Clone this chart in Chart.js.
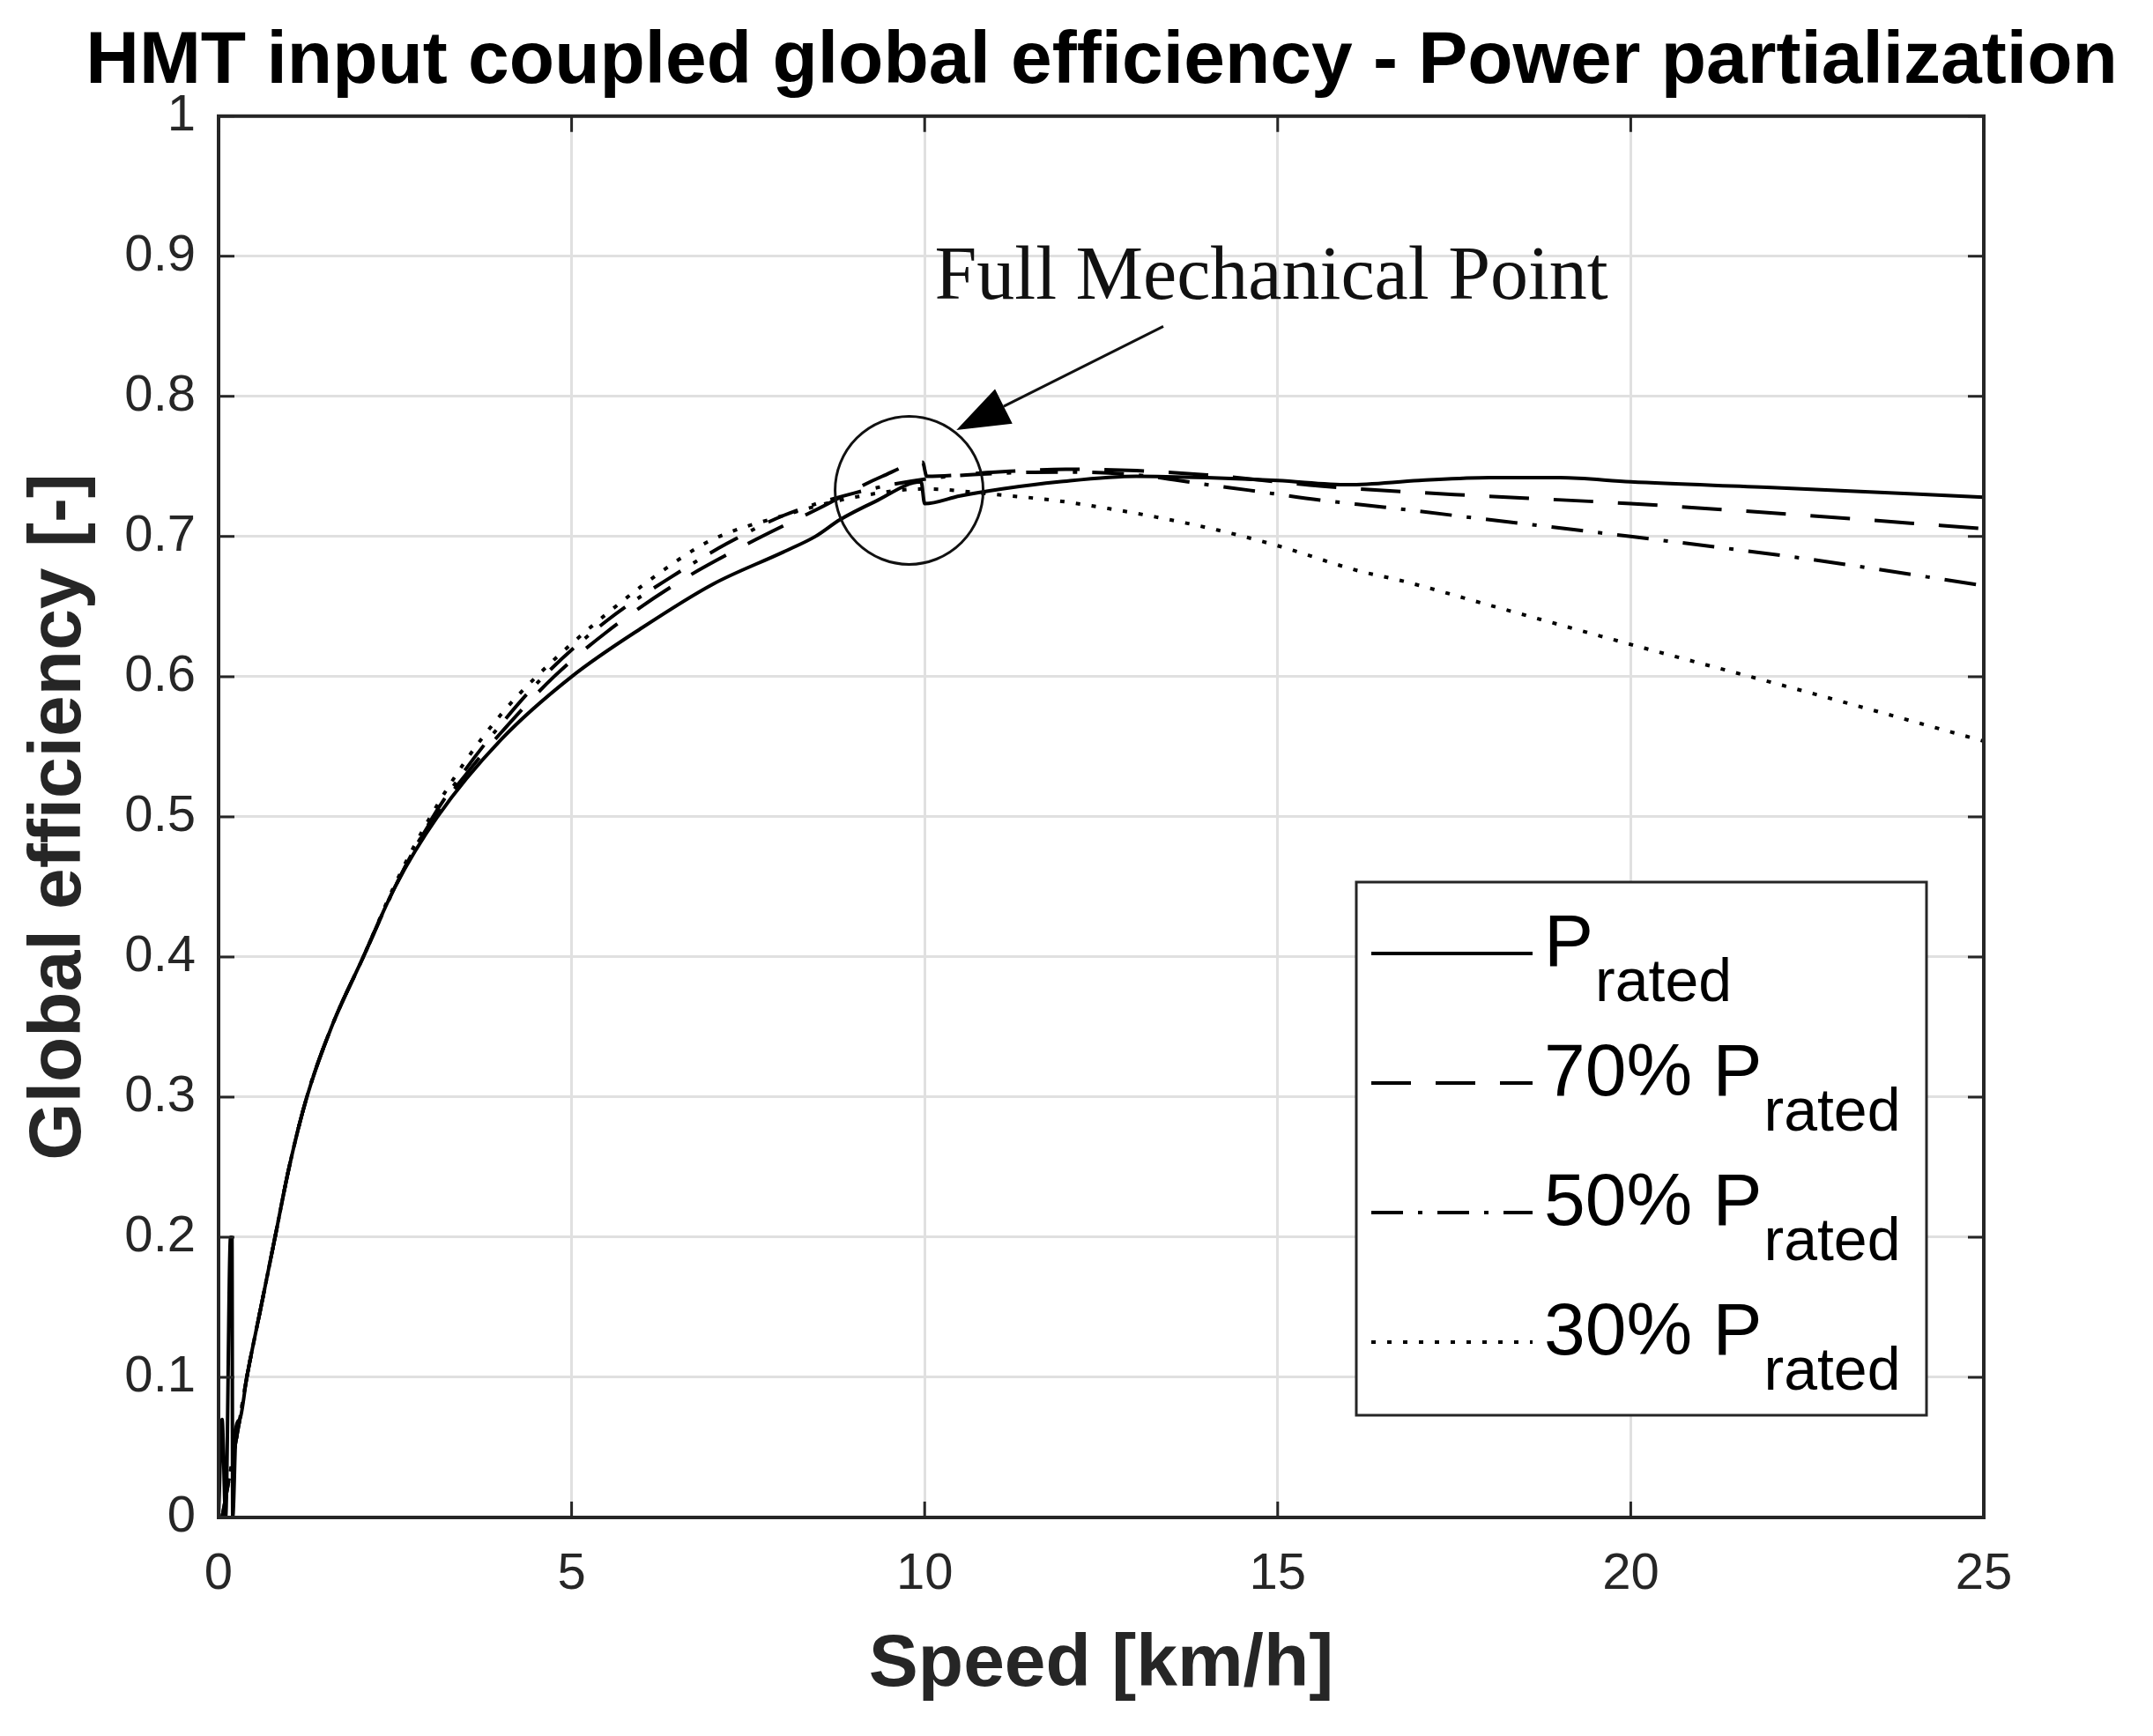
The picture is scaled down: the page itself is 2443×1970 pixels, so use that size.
<!DOCTYPE html>
<html>
<head>
<meta charset="utf-8">
<script src="https://cdn.jsdelivr.net/npm/chart.js@4.4.1/dist/chart.umd.min.js"></script>
<style>
html,body{margin:0;padding:0;background:#ffffff;}
#wrap{width:2443px;height:1970px;position:relative;}
</style>
</head>
<body>
<div id="wrap"><canvas id="c"></canvas></div>
<script>
// ---------------- data ----------------
const chartTitle = 'HMT input coupled global efficiency - Power partialization';
const xAxisTitle = 'Speed [km/h]';
const yAxisTitle = 'Global efficiency [-]';
const xTickValues = [0, 5, 10, 15, 20, 25];
const xTickLabels = ['0', '5', '10', '15', '20', '25'];
const yTickValues = [0, 0.1, 0.2, 0.3, 0.4, 0.5, 0.6, 0.7, 0.8, 0.9, 1];
const yTickLabels = ['0', '0.1', '0.2', '0.3', '0.4', '0.5', '0.6', '0.7', '0.8', '0.9', '1'];
const legendMain = ['P', '70% P', '50% P', '30% P'];
const legendSub = 'rated';
const annotationText = 'Full Mechanical Point';

// P rated (solid)
const speedRated = [0, 0.05, 0.1, 0.17, 0.19, 0.2, 0.25, 0.3, 0.4, 0.6, 0.8, 1.0, 1.25, 1.6, 2.05, 2.5, 3.1, 4.0, 5.0, 6.0, 7.0, 8.0, 8.45, 8.8, 9.3, 9.95, 10.0, 10.5, 11.1, 11.9, 13.0, 14.0, 15.0, 16.0, 17.0, 18.0, 19.0, 20.0, 22.0, 25.0];
const effRated   = [0, 0.07, 0, 0.2, 0.2, 0.0, 0.065, 0.07, 0.1, 0.15, 0.2, 0.25, 0.3, 0.35, 0.4, 0.45, 0.5, 0.555, 0.6, 0.635, 0.666, 0.689, 0.70, 0.712, 0.725, 0.739, 0.7235, 0.729, 0.734, 0.739, 0.743, 0.742, 0.740, 0.737, 0.740, 0.742, 0.742, 0.739, 0.735, 0.728];

// 70% P rated (dashed)
const speed70 = [0.05, 0.3, 0.4, 0.6, 0.8, 1.0, 1.25, 1.6, 2.05, 2.5, 3.0, 3.5, 4.0, 4.75, 5.5, 6.5, 7.5, 8.5, 9.4, 9.97, 10.03, 11.0, 12.0, 13.0, 14.0, 15.0, 15.6, 17.5, 20.0, 22.5, 25.0];
const eff70   = [0, 0.07, 0.1, 0.15, 0.2, 0.25, 0.3, 0.35, 0.4, 0.45, 0.496, 0.53, 0.56, 0.6, 0.632, 0.667, 0.695, 0.72, 0.743, 0.753, 0.743, 0.746, 0.748, 0.747, 0.744, 0.739, 0.736, 0.73, 0.7235, 0.715, 0.7056];

// 50% P rated (dash-dot)
const speed50 = [0.05, 0.3, 0.4, 0.6, 0.8, 1.0, 1.25, 1.6, 2.05, 2.5, 3.0, 3.5, 4.0, 4.6, 5.5, 6.5, 7.2, 8.0, 9.0, 10.0, 11.0, 12.0, 13.0, 14.0, 14.6, 15.6, 16.5, 18.0, 20.0, 22.5, 25.0];
const eff50   = [0, 0.07, 0.1, 0.15, 0.2, 0.25, 0.3, 0.35, 0.4, 0.45, 0.497, 0.534, 0.566, 0.6, 0.64, 0.674, 0.695, 0.715, 0.731, 0.741, 0.745, 0.746, 0.744, 0.737, 0.733, 0.726, 0.721, 0.712, 0.70, 0.684, 0.665];

// 30% P rated (dotted)
const speed30 = [0.05, 0.3, 0.4, 0.6, 0.8, 1.0, 1.25, 1.6, 2.05, 2.5, 3.0, 3.5, 4.0, 4.5, 5.5, 6.5, 7.0, 8.0, 9.0, 10.0, 11.0, 11.87, 12.6, 13.27, 14.15, 15.03, 16.11, 16.79, 18.0, 20.0, 22.5, 25.0];
const eff30   = [0, 0.07, 0.1, 0.15, 0.2, 0.25, 0.3, 0.35, 0.4, 0.452, 0.50, 0.54, 0.573, 0.60, 0.645, 0.683, 0.698, 0.715, 0.728, 0.734, 0.730, 0.7256, 0.720, 0.714, 0.7046, 0.693, 0.676, 0.668, 0.651, 0.623, 0.589, 0.554];

// annotation anchors (data coordinates)
const circleCenter = [9.78, 0.733];
const arrowFrom = [13.38, 0.850];
const arrowTo = [10.45, 0.776];
const textAnchor = [10.14, 0.870];

// ---------------- helpers ----------------
const toPts = (xs, ys) => xs.map((x, i) => ({x: x, y: ys[i]}));
const SANS = '"Liberation Sans", Arial, Helvetica, sans-serif';
const SERIF = '"Liberation Serif", "Times New Roman", serif';
const AXIS_COLOR = '#262626';

// size the title so that it spans the same width as in the reference
const mctx = document.createElement('canvas').getContext('2d');
mctx.font = 'bold 100px ' + SANS;
const titleSize = Math.round(100 * 2314 / mctx.measureText(chartTitle).width);
const titlePadTop = Math.round(70 - 0.6 * titleSize);
const titlePadBottom = Math.max(0, Math.round(132 - titlePadTop - 1.2 * titleSize));

function mkDataset(label, xs, ys, dash) {
  return {
    label: label,
    data: toPts(xs, ys),
    borderColor: '#000000',
    backgroundColor: '#000000',
    borderWidth: 4,
    borderDash: dash,
    pointRadius: 0,
    fill: false,
    tension: 0,
    cubicInterpolationMode: 'monotone'
  };
}

const decorPlugin = {
  id: 'decor',
  afterDatasetsDraw(chart) {
    const ctx = chart.ctx;
    const ca = chart.chartArea;
    const xs = chart.scales.x, ys = chart.scales.y;
    ctx.save();

    // frame
    ctx.strokeStyle = AXIS_COLOR;
    ctx.lineWidth = 4;
    ctx.strokeRect(ca.left, ca.top, ca.right - ca.left, ca.bottom - ca.top);

    // inward ticks on all sides
    ctx.lineWidth = 3;
    const tl = 18;
    ctx.beginPath();
    xTickValues.forEach(v => {
      const px = xs.getPixelForValue(v);
      ctx.moveTo(px, ca.bottom); ctx.lineTo(px, ca.bottom - tl);
      ctx.moveTo(px, ca.top); ctx.lineTo(px, ca.top + tl);
    });
    yTickValues.forEach(v => {
      const py = ys.getPixelForValue(v);
      ctx.moveTo(ca.left, py); ctx.lineTo(ca.left + tl, py);
      ctx.moveTo(ca.right, py); ctx.lineTo(ca.right - tl, py);
    });
    ctx.stroke();

    // circle
    ctx.strokeStyle = '#111111';
    ctx.lineWidth = 3;
    ctx.beginPath();
    ctx.arc(xs.getPixelForValue(circleCenter[0]), ys.getPixelForValue(circleCenter[1]), 84, 0, Math.PI * 2);
    ctx.stroke();

    // arrow
    const ax1 = xs.getPixelForValue(arrowFrom[0]), ay1 = ys.getPixelForValue(arrowFrom[1]);
    const ax2 = xs.getPixelForValue(arrowTo[0]), ay2 = ys.getPixelForValue(arrowTo[1]);
    const dx = ax2 - ax1, dy = ay2 - ay1, len = Math.hypot(dx, dy);
    const ux = dx / len, uy = dy / len;
    const hl = 60, hw = 22;
    const bx = ax2 - ux * hl, by = ay2 - uy * hl;
    ctx.beginPath();
    ctx.moveTo(ax1, ay1); ctx.lineTo(bx, by);
    ctx.stroke();
    ctx.fillStyle = '#000000';
    ctx.beginPath();
    ctx.moveTo(ax2, ay2);
    ctx.lineTo(bx - uy * hw, by + ux * hw);
    ctx.lineTo(bx + uy * hw, by - ux * hw);
    ctx.closePath();
    ctx.fill();

    // annotation text
    ctx.fillStyle = '#111111';
    ctx.font = '86px ' + SERIF;
    ctx.textAlign = 'left';
    ctx.textBaseline = 'alphabetic';
    ctx.fillText(annotationText, xs.getPixelForValue(textAnchor[0]), ys.getPixelForValue(textAnchor[1]));

    // legend
    const bw = 647, bh = 605;
    const lx = ca.right - 65 - bw, ly = ca.bottom - 116 - bh;
    ctx.fillStyle = '#ffffff';
    ctx.fillRect(lx, ly, bw, bh);
    ctx.strokeStyle = AXIS_COLOR;
    ctx.lineWidth = 3;
    ctx.strokeRect(lx, ly, bw, bh);
    chart.data.datasets.forEach((ds, i) => {
      const rowY = ly + 81 + i * 147;
      ctx.strokeStyle = '#000000';
      ctx.lineWidth = 4;
      ctx.setLineDash(ds.borderDash || []);
      ctx.beginPath();
      ctx.moveTo(lx + 17, rowY);
      ctx.lineTo(lx + 200, rowY);
      ctx.stroke();
      ctx.setLineDash([]);
      ctx.fillStyle = '#000000';
      ctx.font = '84px ' + SANS;
      const tx = lx + 213, base = rowY + 14;
      ctx.fillText(legendMain[i], tx, base);
      const w = ctx.measureText(legendMain[i]).width;
      ctx.font = '68px ' + SANS;
      ctx.fillText(legendSub, tx + w + 2, base + 40);
    });
    ctx.restore();
  }
};

const ctx = document.getElementById('c').getContext('2d');
new Chart(ctx, {
  type: 'line',
  data: {
    datasets: [
      mkDataset(legendMain[0] + ' ' + legendSub, speedRated, effRated, []),
      mkDataset(legendMain[1] + ' ' + legendSub, speed70, eff70, [45, 28]),
      mkDataset(legendMain[2] + ' ' + legendSub, speed50, eff50, [36, 17, 5, 17]),
      mkDataset(legendMain[3] + ' ' + legendSub, speed30, eff30, [5, 13])
    ]
  },
  options: {
    responsive: true,
    maintainAspectRatio: false,
    animation: false,
    devicePixelRatio: 1,
    layout: {padding: {left: 57, right: 0, top: 0, bottom: 0}},
    plugins: {
      legend: {display: false},
      tooltip: {enabled: false},
      title: {
        display: true,
        text: chartTitle,
        fullSize: true,
        color: '#000000',
        font: {family: SANS, size: titleSize, weight: 'bold', lineHeight: 1.2},
        padding: {top: titlePadTop, bottom: titlePadBottom}
      }
    },
    scales: {
      x: {
        type: 'linear',
        min: 0, max: 25,
        afterBuildTicks: s => { s.ticks = xTickValues.map(v => ({value: v})); },
        afterFit: s => { s.height = 248; s.paddingRight = 192; },
        ticks: {
          callback: (v, i) => xTickLabels[i],
          color: AXIS_COLOR,
          font: {family: SANS, size: 58},
          padding: 30,
          maxRotation: 0,
          autoSkip: false
        },
        grid: {color: '#e0e0e0', lineWidth: 3, drawTicks: false},
        border: {display: false},
        title: {
          display: true,
          text: xAxisTitle,
          color: AXIS_COLOR,
          font: {family: SANS, size: 84, weight: 'bold', lineHeight: 1.2},
          padding: {top: 0, bottom: 30}
        }
      },
      y: {
        type: 'linear',
        min: 0, max: 1,
        afterBuildTicks: s => { s.ticks = yTickValues.map(v => ({value: v})); },
        afterFit: s => { s.width = 191; },
        ticks: {
          callback: (v, i) => yTickLabels[i],
          color: AXIS_COLOR,
          font: {family: SANS, size: 58},
          padding: 26,
          autoSkip: false
        },
        grid: {color: '#e0e0e0', lineWidth: 3, drawTicks: false},
        border: {display: false},
        title: {
          display: true,
          text: yAxisTitle,
          color: AXIS_COLOR,
          font: {family: SANS, size: 84, weight: 'bold', lineHeight: 0.26},
          padding: {top: 0, bottom: 0}
        }
      }
    }
  },
  plugins: [decorPlugin]
});
</script>
</body>
</html>
